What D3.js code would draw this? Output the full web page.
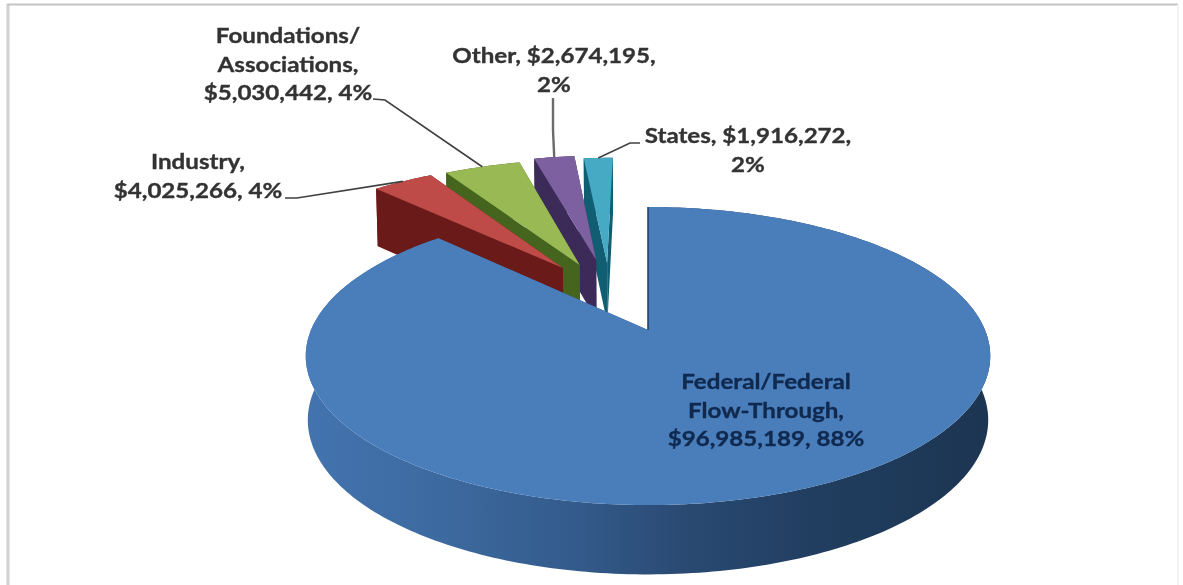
<!DOCTYPE html>
<html>
<head>
<meta charset="utf-8">
<script src="https://cdn.jsdelivr.net/npm/d3@7/dist/d3.min.js"></script>
<style>
html,body{margin:0;padding:0;background:#fff;}
svg{display:block;filter:blur(0.55px);}
text{font-family:Lato,"Open Sans",sans-serif;font-weight:700;}
</style>
</head>
<body>
<svg id="c" width="1183" height="585"></svg>
<script>
const categories = ["Federal/Federal Flow-Through","Industry","Foundations/Associations","Other","States"];
const values = [96985189,4025266,5030442,2674195,1916272];
const faceColors = ["#4a7ebb","#be4b48","#98b954","#7d60a0","#46aac5"];
const wallColors = ["#1f3a5c","#6a1b19","#45651f","#3c2b58","#115e72"];
// explosion of each slice, in pie-radius units
const explodeX = [0,-0.273,-0.22,-0.168,-0.132];
const explodeV = [0,-0.464,-0.488,-0.529,-0.5045];
const labelLines = [
  ["Federal/Federal","Flow-Through,","$96,985,189, 88%"],
  ["Industry,","$4,025,266, 4%"],
  ["Foundations/","Associations,","$5,030,442, 4%"],
  ["Other, $2,674,195,","2%"],
  ["States, $1,916,272,","2%"]
];
const labelX = [766,198,288,554,748];
const labelY = [382,162,36,56,136];
const labelColors = ["#10294f","#333","#333","#333","#333"];
const leaderElbow = [null,[[285,198],[297,198]],[[373,99],[385,100]],[[553,98],[553,130]],[[640,143],[630,143]]];

const cx=648, cy=330, Rx=337, Ry=144.5, persp=0.1746, D=63, lowerShrink=0.994;

const svg=d3.select("#c");
const defs=svg.append("defs");
const grad=defs.append("linearGradient").attr("id","blueWall").attr("gradientUnits","userSpaceOnUse")
  .attr("x1",cx-Rx).attr("x2",cx+Rx).attr("y1",0).attr("y2",0);
[[0,"#4373ae"],[0.2,"#3c699f"],[0.4,"#335a8a"],[0.55,"#2a4a73"],[0.75,"#213e60"],[1,"#1c3552"]]
  .forEach(d=>grad.append("stop").attr("offset",d[0]).attr("stop-color",d[1]));

// frame
svg.append("line").attr("x1",8).attr("x2",8).attr("y1",4).attr("y2",585).attr("stroke","#d3d3d3").attr("stroke-width",3.2);
svg.append("line").attr("x1",7).attr("x2",1178).attr("y1",4.5).attr("y2",4.5).attr("stroke","#c4c4c4").attr("stroke-width",2);
svg.append("line").attr("x1",1178).attr("x2",1178).attr("y1",4).attr("y2",585).attr("stroke","#efefef").attr("stroke-width",1.5);

const arcs=d3.pie().sort(null).value(d=>d)(values);

function project(i,theta,r,lower){
  const X=explodeX[i]+r*Math.sin(theta), V=explodeV[i]-r*Math.cos(theta);
  const w=1-persp*V;
  const shrink=lower?lowerShrink:1;
  return [cx+Rx*X/w*shrink, cy+Ry*V/w+(lower?D/Math.sqrt(w):0)];
}
const line=d3.line();
function arcAngles(a,stepDeg){
  const n=Math.max(2,Math.ceil((a.endAngle-a.startAngle)/(stepDeg*Math.PI/180)));
  return d3.range(n+1).map(k=>a.startAngle+(a.endAngle-a.startAngle)*k/n);
}
function facePts(a,i,lower){
  return [project(i,0,0,lower)].concat(arcAngles(a,1).map(t=>project(i,t,1,lower)));
}
function wallShapes(a,i){
  const top=facePts(a,i,false), low=facePts(a,i,true);
  const rimTop=top.slice(1), rimLow=low.slice(1);
  return [
    line(rimTop.concat(rimLow.slice().reverse()))+"Z",
    line([top[0],top[1],low[1],low[0]])+"Z",
    line([top[0],top[top.length-1],low[low.length-1],low[0]])+"Z"
  ];
}

// far exploded slices first, the one nearest the large slice last, large slice on top
const order=[4,3,2,1,0];
order.forEach(i=>{
  const a=arcs[i];
  wallShapes(a,i).forEach(d=>{
    svg.append("path").attr("d",d).attr("fill",i===0?"url(#blueWall)":wallColors[i]);
  });
  svg.append("path").attr("d",line(facePts(a,i,false))+"Z").attr("fill",faceColors[i]);
});
// dark seam on the large slice's cut edge
svg.append("path").attr("d",line([project(0,arcs[0].startAngle,1,false),project(0,0,0,false)]))
  .attr("stroke","#1f3a5c").attr("stroke-width",1.5).attr("fill","none");

// leaders
leaderElbow.forEach((e,i)=>{
  if(!e) return;
  const a=arcs[i], mid=(a.startAngle+a.endAngle)/2;
  svg.append("path").attr("d",line(e.concat([project(i,mid,1,false)])))
    .attr("fill","none").attr("stroke",i===3?"#6b6b6b":"#404040").attr("stroke-width",i===3?2.4:1.6);
});

// labels (the reference's lettering is stretched horizontally)
const step=28.5, stretch=1.15;
labelLines.forEach((ls,i)=>{
  ls.forEach((t,k)=>{
    svg.append("text")
      .attr("transform",`translate(${labelX[i]},${labelY[i]+k*step}) scale(${stretch},1)`)
      .attr("dy","0.35em").attr("text-anchor","middle")
      .attr("font-size",21).attr("fill",labelColors[i])
      .attr("stroke",labelColors[i]).attr("stroke-width",0.35).text(t);
  });
});
</script>
</body>
</html>
